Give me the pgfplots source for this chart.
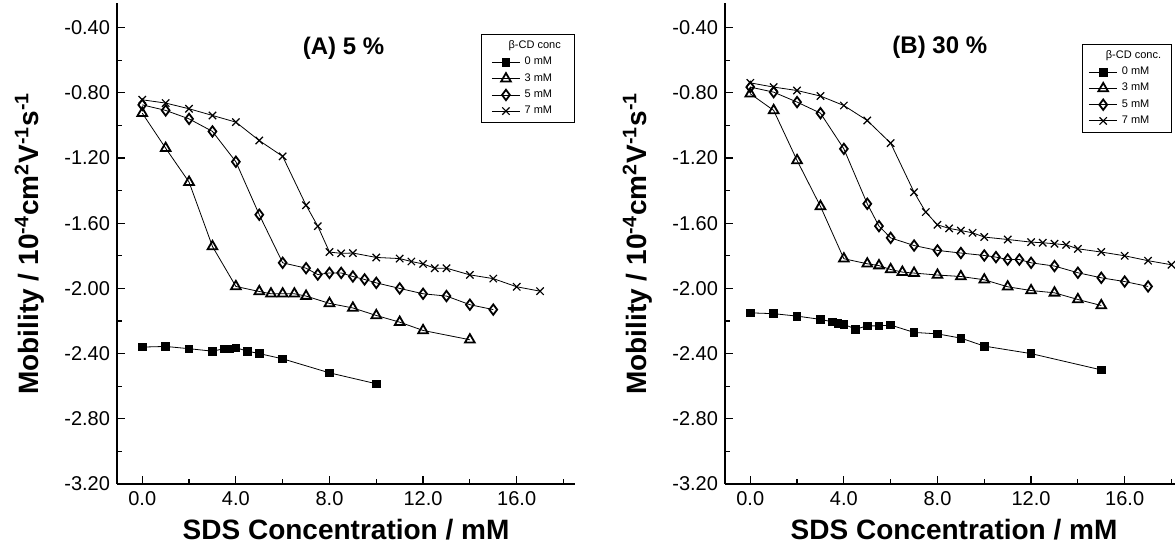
\documentclass[border=0pt]{standalone}
\usepackage{fontspec}
\setmainfont{Liberation Sans}
\usepackage{pgfplots}
\pgfplotsset{compat=1.18}

\pgfplotsset{
  mob/.style={
    x=11.7pt, y=81.5pt,
    anchor=south west,
    xmin=-1.08, xmax=18.5, ymin=-3.2, ymax=-0.25,
    axis x line*=bottom, axis y line*=left,
    axis line style={line width=0.9pt},
    tick align=inside,
    xtick={0,4,8,12,16}, minor xtick={2,6,10,14,18},
    xticklabels={0.0,4.0,8.0,12.0,16.0},
    ytick={-3.2,-2.8,-2.4,-2.0,-1.6,-1.2,-0.8,-0.4},
    minor ytick={-3.0,-2.6,-2.2,-1.8,-1.4,-1.0,-0.6},
    yticklabels={-3.20,-2.80,-2.40,-2.00,-1.60,-1.20,-0.80,-0.40},
    major tick length=4pt, minor tick length=2.5pt,
    tick style={line width=0.6pt, black},
    ticklabel style={font=\fontsize{10}{12}\selectfont},
    label style={font=\fontsize{14}{16}\selectfont\bfseries},
    ylabel shift=3pt,
    xlabel={SDS Concentration / mM},
    ylabel={Mobility / 10\textsuperscript{-4}cm\textsuperscript{2}V\textsuperscript{-1}s\textsuperscript{-1}},
    legend style={font=\fontsize{5.5}{6}\selectfont, draw=black, line width=0.4pt,
      inner xsep=5pt, inner ysep=1pt, row sep=-1.2pt, anchor=north east},
    legend cell align=left,
    legend image code/.code={\draw[mark repeat=2,mark phase=2]
      plot coordinates {(0cm,0cm)(0.25cm,0cm)(0.5cm,0cm)};},
  },
  sq/.style={black, line width=0.4pt, mark=square*, mark size=1.9pt},
  tri/.style={black, line width=0.4pt, mark=triangle, mark size=2.8pt, mark options={line width=0.9pt}},
  dia/.style={black, line width=0.4pt, mark=diamond, mark size=2.6pt, mark options={line width=0.9pt}},
  xx/.style={black, line width=0.4pt, mark=x, mark size=2.6pt, mark options={line width=0.6pt}},
}

\begin{document}
\begin{tikzpicture}
% (A) 5 %
\begin{axis}[mob, at={(58.5pt,32pt)}, legend style={at={(axis cs:18.5,-0.44)}}]
\addlegendimage{empty legend}
\addlegendentry{\hspace*{-8pt}β-CD conc}
\addplot[sq] coordinates {
 (0,-2.36) (1,-2.356) (2,-2.37) (3,-2.385) (3.5,-2.37) (3.75,-2.37) (4,-2.364)
 (4.5,-2.385) (5,-2.40) (6,-2.432) (8,-2.518) (10,-2.585)};
\addlegendentry{0 mM}
\addplot[tri] coordinates {
 (0,-0.925) (1,-1.14) (2,-1.348) (3,-1.743) (4,-1.988) (5,-2.019) (5.5,-2.033)
 (6,-2.033) (6.5,-2.033) (7,-2.047) (8,-2.092) (9,-2.12) (10,-2.166)
 (11,-2.207) (12,-2.258) (14,-2.315)};
\addlegendentry{3 mM}
\addplot[dia] coordinates {
 (0,-0.874) (1,-0.908) (2,-0.96) (3,-1.037) (4,-1.223) (5,-1.548) (6,-1.843)
 (7,-1.876) (7.5,-1.915) (8,-1.905) (8.5,-1.905) (9,-1.927) (9.5,-1.945)
 (10,-1.966) (11,-2.0) (12,-2.033) (13,-2.047) (14,-2.10) (15,-2.13)};
\addlegendentry{5 mM}
\addplot[xx] coordinates {
 (0,-0.843) (1,-0.863) (2,-0.898) (3,-0.939) (4,-0.98) (5,-1.093) (6,-1.19)
 (7,-1.49) (7.5,-1.618) (8,-1.777) (8.5,-1.785) (9,-1.783) (10,-1.81)
 (11,-1.817) (11.5,-1.835) (12,-1.85) (12.5,-1.876) (13,-1.876) (14,-1.917)
 (15,-1.94) (16,-1.99) (17,-2.017)};
\addlegendentry{7 mM}
\node[font=\fontsize{12}{14}\selectfont\bfseries] at (axis cs:8.6,-0.53) {(A) 5 \%};
\end{axis}
% (B) 30 %
\begin{axis}[mob, at={(362.5pt,32pt)}, legend style={at={(axis cs:18.0,-0.50)}, inner xsep=3pt}]
\addlegendimage{empty legend}
\addlegendentry{\hspace*{-8pt}β-CD conc.}
\addplot[sq] coordinates {
 (0,-2.15) (1,-2.155) (2,-2.17) (3,-2.19) (3.5,-2.205) (3.75,-2.215) (4,-2.22)
 (4.5,-2.25) (5,-2.23) (5.5,-2.23) (6,-2.225) (7,-2.27) (8,-2.279) (9,-2.305)
 (10,-2.354) (12,-2.40) (15,-2.50)};
\addlegendentry{0 mM}
\addplot[tri] coordinates {
 (0,-0.806) (1,-0.908) (2,-1.215) (3,-1.497) (4,-1.818) (5,-1.849) (5.5,-1.86)
 (6,-1.884) (6.5,-1.90) (7,-1.906) (8,-1.918) (9,-1.927) (10,-1.947)
 (11,-1.99) (12,-2.013) (13,-2.027) (14,-2.068) (15,-2.105)};
\addlegendentry{3 mM}
\addplot[dia] coordinates {
 (0,-0.765) (1,-0.796) (2,-0.857) (3,-0.925) (4,-1.144) (5,-1.481) (5.5,-1.618)
 (6,-1.69) (7,-1.737) (8,-1.767) (9,-1.783) (10,-1.798) (10.5,-1.808)
 (11,-1.823) (11.5,-1.823) (12,-1.843) (13,-1.863) (14,-1.904) (15,-1.935)
 (16,-1.958) (17,-1.988)};
\addlegendentry{5 mM}
\addplot[xx] coordinates {
 (0,-0.739) (1,-0.765) (2,-0.786) (3,-0.82) (4,-0.878) (5,-0.97) (6,-1.109)
 (7,-1.41) (7.5,-1.532) (8,-1.61) (8.5,-1.632) (9,-1.645) (9.5,-1.659)
 (10,-1.685) (11,-1.70) (12,-1.716) (12.5,-1.72) (13,-1.726) (13.5,-1.733)
 (14,-1.757) (15,-1.777) (16,-1.80) (17,-1.83) (18,-1.855)};
\addlegendentry{7 mM}
\node[font=\fontsize{12}{14}\selectfont\bfseries] at (axis cs:8.1,-0.52) {(B) 30 \%};
\end{axis}
\pgfresetboundingbox
\path[use as bounding box] (0,0) rectangle (587.5pt,274pt);
\end{tikzpicture}
\end{document}
